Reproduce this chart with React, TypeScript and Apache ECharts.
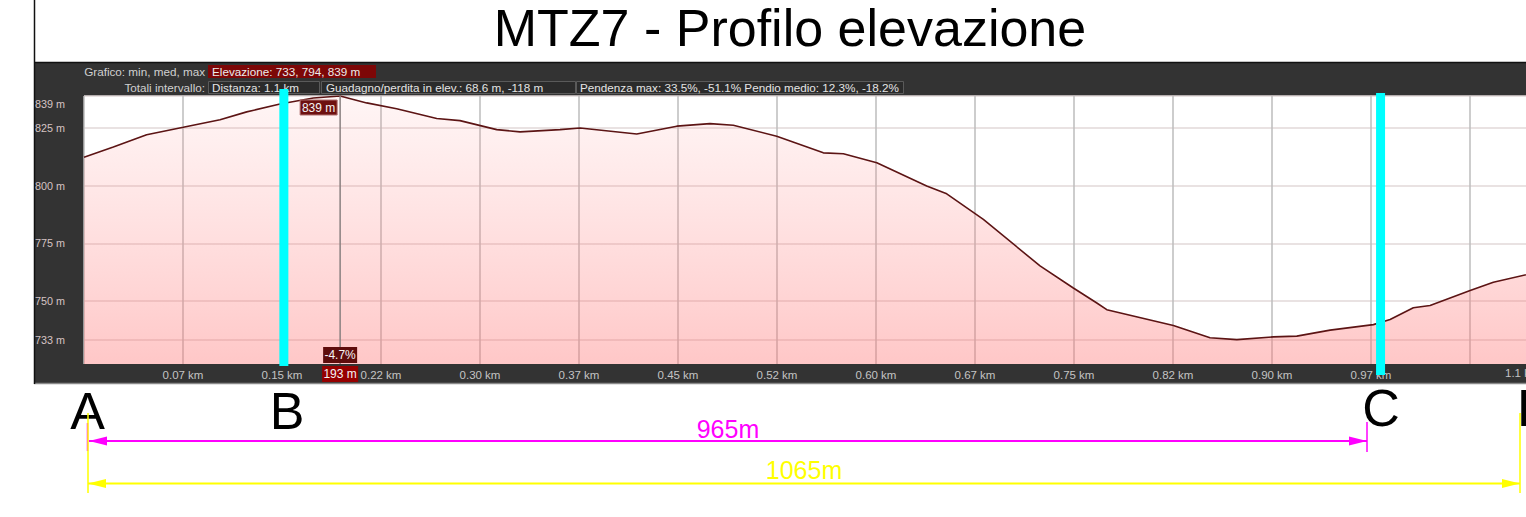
import React, { useEffect, useRef } from 'react';
import * as echarts from 'echarts';

// ---- data ----
const distanceKm = [0, 0.0221, 0.0472, 0.0748, 0.1025, 0.1226, 0.1477, 0.1728, 0.193, 0.213, 0.2356, 0.2658, 0.2833, 0.311, 0.3286, 0.3587, 0.3738, 0.4165, 0.4467, 0.4717, 0.4893, 0.522, 0.5571, 0.5722, 0.5974, 0.635, 0.6501, 0.6777, 0.7204, 0.7455, 0.7632, 0.7707, 0.8209, 0.8485, 0.8687, 0.8962, 0.9139, 0.939, 0.9716, 0.9842, 1.0017, 1.0143, 1.0445, 1.062, 1.0867, 1.1];
const elevationM = [812.4, 816.8, 822.2, 825.4, 828.7, 832.1, 835.5, 838.1, 839, 836, 833.5, 829.2, 828.3, 824.4, 823.4, 824.4, 825.1, 822.5, 825.9, 827, 826.3, 821.5, 814.3, 813.9, 810, 799.9, 796.5, 785.4, 765.2, 755.6, 749.1, 746.2, 739.3, 734, 733.2, 734.4, 734.7, 737.3, 739.7, 741.9, 747, 748, 754.5, 758.1, 761.4, 763.5];
const xTickStep = 0.0746;
const xTickCount = 15;
const xTickLabels = ['0.07 km', '0.15 km', '0.22 km', '0.30 km', '0.37 km', '0.45 km', '0.52 km', '0.60 km', '0.67 km', '0.75 km', '0.82 km', '0.90 km', '0.97 km'];
const xEndLabel = '1.1 km';
const yTickValues = [733, 750, 775, 800, 825, 839];
const yMin = 722.6;
const yMax = 839;
const cursorKm = 0.193;
const cursorDistLabel = '193 m';
const cursorSlopeLabel = '-4.7%';
const peakLabel = '839 m';
const markerBKm = 0.1506;
const markerCKm = 0.977;
const titleText = 'MTZ7 - Profilo elevazione';
const row1Caption = 'Grafico: min, med, max';
const row1Value = 'Elevazione: 733, 794, 839 m';
const row2Caption = 'Totali intervallo:';
const row2Values = ['Distanza: 1.1 km', 'Guadagno/perdita in elev.: 68.6 m, -118 m', 'Pendenza max: 33.5%, -51.1% Pendio medio: 12.3%, -18.2%'];
const dimInner = '965m';
const dimOuter = '1065m';
const pointLetters = ['A', 'B', 'C', 'D'];

const FONT = '"Liberation Sans", Arial, sans-serif';

function txt(text: string, x: number, y: number, size: number, fill: string, align = 'left', z = 100) {
  return {
    type: 'text', z, silent: true,
    style: { text, x, y, fill, font: `${size}px ${FONT}`, align, textAlign: align, verticalAlign: 'middle', textVerticalAlign: 'middle' },
  };
}
function rect(x: number, y: number, w: number, h: number, fill: string, stroke?: string, z = 100) {
  return {
    type: 'rect', z, silent: true,
    shape: { x, y, width: w, height: h },
    style: { fill, stroke: stroke || 'none', lineWidth: stroke ? 1 : 0 },
  };
}
function line(x1: number, y1: number, x2: number, y2: number, stroke: string, w: number, z = 100) {
  return { type: 'line', z, silent: true, shape: { x1, y1, x2, y2 }, style: { stroke, lineWidth: w } };
}
function tri(points: number[][], fill: string, z = 100) {
  return { type: 'polygon', z, silent: true, shape: { points }, style: { fill } };
}

export default function App() {
  const ref = useRef<HTMLDivElement>(null);
  useEffect(() => {
    const chart = echarts.init(ref.current!, null, { renderer: 'svg' });
    chart.setOption({
      animation: false,
      grid: { left: 84, top: 96, width: 1485, height: 268, show: false },
      xAxis: {
        type: 'value', min: 0, max: xTickStep * xTickCount, interval: xTickStep,
        axisLine: { show: false }, axisTick: { show: false },
        splitLine: { show: true, lineStyle: { color: '#bdbdbd', width: 1.5 } },
        axisLabel: {
          color: '#c4c4c4', fontSize: 11.5, fontFamily: FONT, margin: 5,
          showMinLabel: true, showMaxLabel: true,
          formatter: (_v: number, i: number) => xTickLabels[i - 1] ?? '',
        },
      },
      yAxis: {
        type: 'value', min: yMin, max: yMax,
        axisLine: { show: false },
        axisTick: { show: false, customValues: yTickValues },
        splitLine: { show: true, lineStyle: { color: '#e2d8d8', width: 1.5 } },
        axisLabel: {
          customValues: yTickValues, align: 'left', margin: 49,
          color: '#d6c4c4', fontSize: 10.8, fontFamily: FONT,
          formatter: (v: number) => (v === yMax ? `{top|${v} m}` : `${v} m`),
          rich: { top: { padding: [16, 0, 0, 0], color: '#d6c4c4', fontSize: 10.8, fontFamily: FONT } },
        },
      },
      series: [{
        type: 'line', z: 3,
        data: distanceKm.map((d, i) => [d, elevationM[i]]),
        symbol: 'none',
        lineStyle: { color: '#5c1414', width: 1.6 },
        areaStyle: {
          color: new echarts.graphic.LinearGradient(0, 0, 0, 1, [
            { offset: 0, color: 'rgba(255,140,140,0.12)' },
            { offset: 1, color: 'rgba(255,110,110,0.55)' },
          ]),
        },
      }],
    });

    const px = (km: number, m: number) => chart.convertToPixel({ gridIndex: 0 }, [km, m]) as number[];
    const top = px(0, yMax)[1];
    const bottom = px(0, yMin)[1];
    const left = px(0, yMin)[0];
    const cx = px(cursorKm, yMin)[0];
    const bx = px(markerBKm, yMin)[0];
    const ccx = px(markerCKm, yMin)[0];

    const g: any[] = [
      // backgrounds
      line(34.5, 0, 34.5, 62, '#111', 1.5, -100),
      rect(34, 62, 1600, 322, '#333333', undefined, -100),
      line(34, 62.5, 1600, 62.5, '#111', 1.5, -99),
      line(34, 383.5, 1600, 383.5, '#8a8a8a', 1.5, -99),
      line(34.5, 62, 34.5, 384, '#111', 1.5, -99),
      rect(left, top, 1600, bottom - top, '#ffffff', undefined, -90),
      // title
      txt(titleText, 790, 28, 52, '#000', 'center'),
      // header stats
      txt(row1Caption, 205, 71.5, 11.7, '#d0d0d0', 'right'),
      rect(208, 65, 168, 13, '#7d0707'),
      txt(row1Value, 212, 71.5, 11.7, '#ececec'),
      txt(row2Caption, 205, 87.5, 11.7, '#d0d0d0', 'right'),
      rect(208.5, 81.5, 111, 12, '#2b2b2b', '#5a5a5a'),
      txt(row2Values[0], 212, 87.5, 11.7, '#e4e4e4'),
      rect(321.5, 81.5, 254, 12, '#2b2b2b', '#5a5a5a'),
      txt(row2Values[1], 326, 87.5, 11.7, '#e4e4e4'),
      rect(576.5, 81.5, 327, 12, '#2b2b2b', '#5a5a5a'),
      txt(row2Values[2], 580, 87.5, 11.7, '#e4e4e4'),
      // x end label
      txt(xEndLabel, 1505, 373, 11.5, '#c4c4c4'),
      // cursor
      line(cx, top, cx, bottom, '#8a8080', 1.5, 50),
      rect(cx - 40, top + 4, 37, 15, '#6e1010', '#b07070'),
      txt(peakLabel, cx - 21.5, top + 11.5, 12, '#f4f4f4', 'center'),
      rect(cx - 17, bottom - 17, 34, 16, '#5e0c0c'),
      txt(cursorSlopeLabel, cx, bottom - 9, 12, '#f4f4f4', 'center'),
      rect(cx - 18, bottom + 2, 36, 16, '#960000'),
      txt(cursorDistLabel, cx, bottom + 10, 12, '#f4f4f4', 'center'),
      // cyan markers
      rect(bx - 4.5, top - 7, 9, bottom - top + 9, '#00ffff', undefined, 110),
      rect(ccx - 4.5, top - 3, 9, bottom - top + 14, '#00ffff', undefined, 110),
      // letters
      txt(pointLetters[0], 87.5, 411, 52, '#000', 'center'),
      txt(pointLetters[1], 287, 411, 52, '#000', 'center'),
      txt(pointLetters[2], 1381, 408, 52, '#000', 'center'),
      txt(pointLetters[3], 1517, 408, 52, '#000', 'left'),
      // magenta dimension
      line(89, 441, 1367, 441, '#ff00ff', 2),
      line(87.5, 423, 87.5, 451, '#ff00ff', 1.5),
      line(1367, 422, 1367, 452, '#ff00ff', 1.5),
      tri([[89, 441], [107, 436.5], [107, 445.5]], '#ff00ff'),
      tri([[1367, 441], [1349, 436.5], [1349, 445.5]], '#ff00ff'),
      txt(dimInner, 728, 429, 25, '#ff00ff', 'center'),
      // yellow dimension
      line(88, 483.5, 1520, 483.5, '#ffff00', 2),
      line(88, 413, 88, 493, '#ffff00', 1.5),
      line(1520, 413, 1520, 493, '#ffff00', 1.5),
      tri([[88, 483.5], [106, 479], [106, 488]], '#ffff00'),
      tri([[1520, 483.5], [1502, 479], [1502, 488]], '#ffff00'),
      txt(dimOuter, 804, 470, 25, '#ffff00', 'center'),
    ];
    chart.setOption({ graphic: g });
    return () => chart.dispose();
  }, []);
  return (
    <div style={{ position: 'absolute', left: 0, top: 0, width: 1526, height: 517, overflow: 'hidden', background: '#fff' }}>
      <div ref={ref} style={{ width: 1600, height: 517 }} />
    </div>
  );
}
